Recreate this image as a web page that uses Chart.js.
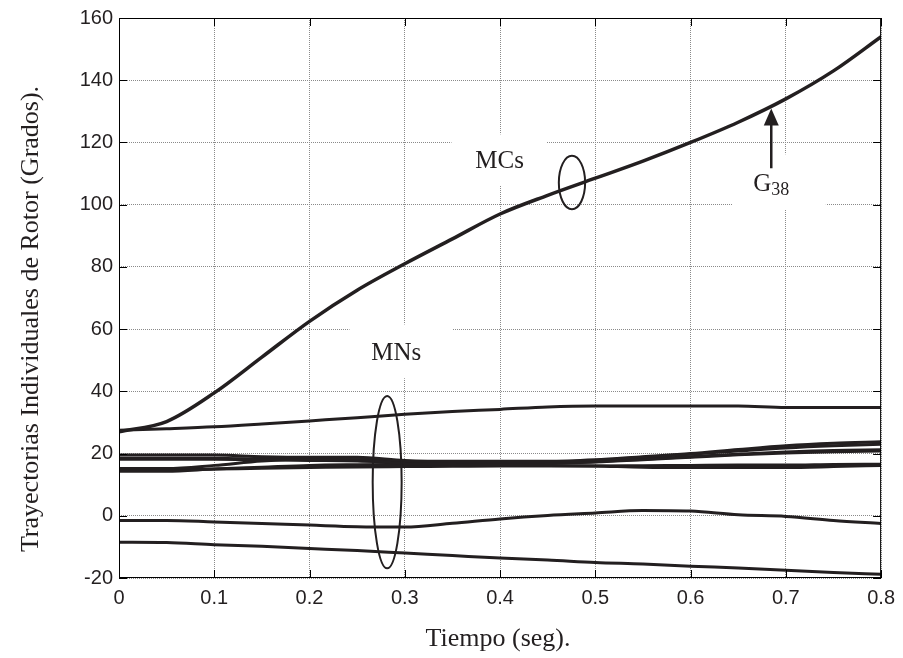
<!DOCTYPE html>
<html>
<head>
<meta charset="utf-8">
<title>Trayectorias de rotor</title>
<script src="https://cdn.jsdelivr.net/npm/chart.js@4.4.0/dist/chart.umd.min.js"></script>
<style>
  html, body { margin: 0; padding: 0; background: #fff; }
  canvas { display: block; }
</style>
</head>
<body>
<canvas id="rotor-chart" width="903" height="658"></canvas>
<script>
// Time axis (s) shared by every trajectory
const tiempo = [0, 0.05, 0.1, 0.15, 0.2, 0.25, 0.3, 0.35, 0.4, 0.45, 0.5, 0.55, 0.6, 0.65, 0.7, 0.75, 0.8];

// Critical machine G38 (degrees)
const g38 = [27, 30.3, 39.5, 51, 62.5, 72.5, 81, 89, 97, 103, 108.5, 114, 120, 126.5, 134, 143, 154];

// Non-critical machines (degrees)
const mn1 = [27.5, 28, 28.6, 29.5, 30.5, 31.5, 32.6, 33.5, 34.2, 35, 35.3, 35.3, 35.3, 35.3, 34.8, 34.8, 34.8];
const mn2 = [19.5, 19.5, 19.5, 19, 18.8, 18.8, 17.8, 17.5, 17.5, 17.5, 18, 19, 20, 21.3, 22.5, 23.3, 23.8];
const mn3 = [18.5, 18.5, 18.5, 18.2, 18, 18, 16.8, 16.5, 16.3, 16.2, 16, 15.6, 15.5, 15.5, 15.5, 15.8, 16.2];
const mn4 = [18.2, 18.2, 18.2, 18, 17.8, 17.6, 17, 16.8, 16.8, 17, 17.3, 18, 18.8, 19.6, 20.2, 20.6, 20.8];
const mn5 = [15.2, 15.2, 16.2, 17.6, 18.2, 18, 17.5, 17.3, 17.2, 17.3, 17.8, 18.8, 19.8, 20.8, 21.8, 22.5, 23];
const mn6 = [14.3, 14.3, 15, 15.6, 16.2, 16.4, 16.5, 16.6, 16.8, 17, 17.4, 18.2, 19, 19.8, 20.5, 21, 21.2];
const mn7 = [14.7, 14.8, 15, 15.3, 15.5, 15.7, 15.8, 15.9, 16, 16, 16, 16.1, 16.2, 16.3, 16.3, 16.5, 16.6];
const mn8 = [-1.5, -1.5, -2, -2.5, -3, -3.5, -3.6, -2.4, -1, 0.1, 0.9, 1.7, 1.5, 0.3, -0.2, -1.5, -2.5];
const mn9 = [-8.5, -8.6, -9.3, -9.8, -10.5, -11.2, -12, -12.8, -13.6, -14.2, -15, -15.5, -16.2, -16.8, -17.5, -18.2, -18.8];

const xTickLabels = ['0', '0.1', '0.2', '0.3', '0.4', '0.5', '0.6', '0.7', '0.8'];
const yTickLabels = ['-20', '0', '20', '40', '60', '80', '100', '120', '140', '160'];

const serie = vals => vals.map((v, i) => ({ x: tiempo[i], y: v }));

const datasets = [
    { label: 'G38', data: serie(g38), borderWidth: 3.5 },
    ...[mn1, mn2, mn3, mn4, mn5, mn6, mn7, mn8, mn9].map((vals, i) => ({
        label: 'MN ' + (i + 1), data: serie(vals), borderWidth: 3
    }))
].map(ds => ({ ...ds, borderColor: '#231f20', pointRadius: 0, cubicInterpolationMode: 'monotone', fill: false }));

// Annotation layout, in axis units
const boxes = [
    { x0: 0.349, x1: 0.449, y0: 106.3, y1: 122.6 },
    { x0: 0.242, x1: 0.350, y0: 44.2, y1: 61.5 },
    { x0: 0.644, x1: 0.742, y0: 98.6, y1: 116.2 }
];
const ellipses = [
    { x: 0.4755, y: 107.1, rx: 0.0138, ry: 8.6 },
    { x: 0.2815, y: 10.8, rx: 0.0152, ry: 27.7 }
];

const SERIF = '"Liberation Serif", "Times New Roman", serif';

const annotations = {
    id: 'annotations',
    beforeDatasetsDraw(chart) {
        const { ctx, scales: { x, y } } = chart;
        ctx.save();
        ctx.fillStyle = '#fff';
        boxes.forEach(b => {
            const l = x.getPixelForValue(b.x0), r = x.getPixelForValue(b.x1);
            const t = y.getPixelForValue(b.y1), btm = y.getPixelForValue(b.y0);
            ctx.fillRect(l, t, r - l, btm - t);
        });
        ctx.restore();
    },
    afterDatasetsDraw(chart) {
        const { ctx, chartArea: a, scales: { x, y } } = chart;
        ctx.save();

        // frame and inward ticks
        ctx.strokeStyle = '#000';
        ctx.lineWidth = 1;
        ctx.strokeRect(a.left + 0.5, a.top + 0.5, a.right - a.left - 1, a.bottom - a.top - 1);
        ctx.beginPath();
        x.ticks.forEach(tk => {
            const px = Math.round(x.getPixelForValue(tk.value)) + 0.5;
            ctx.moveTo(px, a.bottom); ctx.lineTo(px, a.bottom - 8);
            ctx.moveTo(px, a.top); ctx.lineTo(px, a.top + 8);
        });
        y.ticks.forEach(tk => {
            const py = Math.round(y.getPixelForValue(tk.value)) + 0.5;
            ctx.moveTo(a.left, py); ctx.lineTo(a.left + 8, py);
            ctx.moveTo(a.right, py); ctx.lineTo(a.right - 8, py);
        });
        ctx.stroke();

        // group ellipses
        ctx.lineWidth = 2;
        ctx.strokeStyle = '#231f20';
        ellipses.forEach(e => {
            const cx = x.getPixelForValue(e.x), cy = y.getPixelForValue(e.y);
            const rx = x.getPixelForValue(e.x + e.rx) - cx;
            const ry = cy - y.getPixelForValue(e.y + e.ry);
            ctx.beginPath();
            ctx.ellipse(cx, cy, rx, ry, 0, 0, Math.PI * 2);
            ctx.stroke();
        });

        // labels
        ctx.fillStyle = '#231f20';
        ctx.font = '25px ' + SERIF;
        ctx.textAlign = 'center';
        ctx.textBaseline = 'middle';
        ctx.fillText('MCs', x.getPixelForValue(0.3995), y.getPixelForValue(113.8));
        ctx.fillText('MNs', x.getPixelForValue(0.291), y.getPixelForValue(52.3));

        // G38 with subscript
        const gx = x.getPixelForValue(0.6847), gy = y.getPixelForValue(106.7);
        ctx.textAlign = 'left';
        ctx.textBaseline = 'alphabetic';
        ctx.font = '25px ' + SERIF;
        const gw = ctx.measureText('G').width;
        ctx.font = '18px ' + SERIF;
        const sw = ctx.measureText('38').width;
        const gl = gx - (gw + sw) / 2;
        ctx.font = '25px ' + SERIF;
        ctx.fillText('G', gl, gy + 7);
        ctx.font = '18px ' + SERIF;
        ctx.fillText('38', gl + gw, gy + 11);

        // arrow to G38 trajectory
        const ax = gx, ay0 = y.getPixelForValue(111.7), ay1 = y.getPixelForValue(130.9);
        ctx.lineWidth = 2.5;
        ctx.beginPath();
        ctx.moveTo(ax, ay0);
        ctx.lineTo(ax, ay1 + 14);
        ctx.stroke();
        ctx.beginPath();
        ctx.moveTo(ax, ay1);
        ctx.lineTo(ax - 7.5, ay1 + 17);
        ctx.lineTo(ax + 7.5, ay1 + 17);
        ctx.closePath();
        ctx.fill();

        ctx.restore();
    },
    afterDraw(chart) {
        const { ctx, chartArea: a } = chart;
        ctx.save();
        ctx.fillStyle = '#231f20';
        ctx.font = '26px ' + SERIF;
        ctx.textAlign = 'center';
        ctx.textBaseline = 'middle';
        ctx.fillText('Tiempo (seg).', (a.left + a.right) / 2 - 2, 639);
        ctx.translate(31, 319);
        ctx.rotate(-Math.PI / 2);
        ctx.fillText('Trayectorias Individuales de Rotor (Grados).', 0, 0);
        ctx.restore();
    }
};

const tickFont = { family: '"Liberation Sans", Arial, sans-serif', size: 20 };

new Chart(document.getElementById('rotor-chart'), {
    type: 'line',
    data: { datasets },
    options: {
        responsive: false,
        animation: false,
        devicePixelRatio: 1,
        layout: { padding: { top: 15, right: 21, left: 0, bottom: 0 } },
        plugins: { legend: { display: false }, tooltip: { enabled: false } },
        scales: {
            x: {
                type: 'linear',
                min: 0, max: 0.8,
                afterFit(scale) { scale.height = 80; },
                grid: { color: '#8a8a8a', lineWidth: 1, drawTicks: false },
                border: { display: false, dash: [1, 1] },
                ticks: {
                    stepSize: 0.1, padding: 8, color: '#231f20', font: tickFont,
                    maxRotation: 0,
                    callback: (v, i) => xTickLabels[i]
                }
            },
            y: {
                type: 'linear',
                min: -20, max: 160,
                afterFit(scale) { scale.width = 119; },
                grid: { color: '#8a8a8a', lineWidth: 1, drawTicks: false },
                border: { display: false, dash: [1, 1] },
                ticks: {
                    stepSize: 20, padding: 6, color: '#231f20', font: tickFont,
                    callback: (v, i) => yTickLabels[i]
                }
            }
        }
    },
    plugins: [annotations]
});
</script>
</body>
</html>
